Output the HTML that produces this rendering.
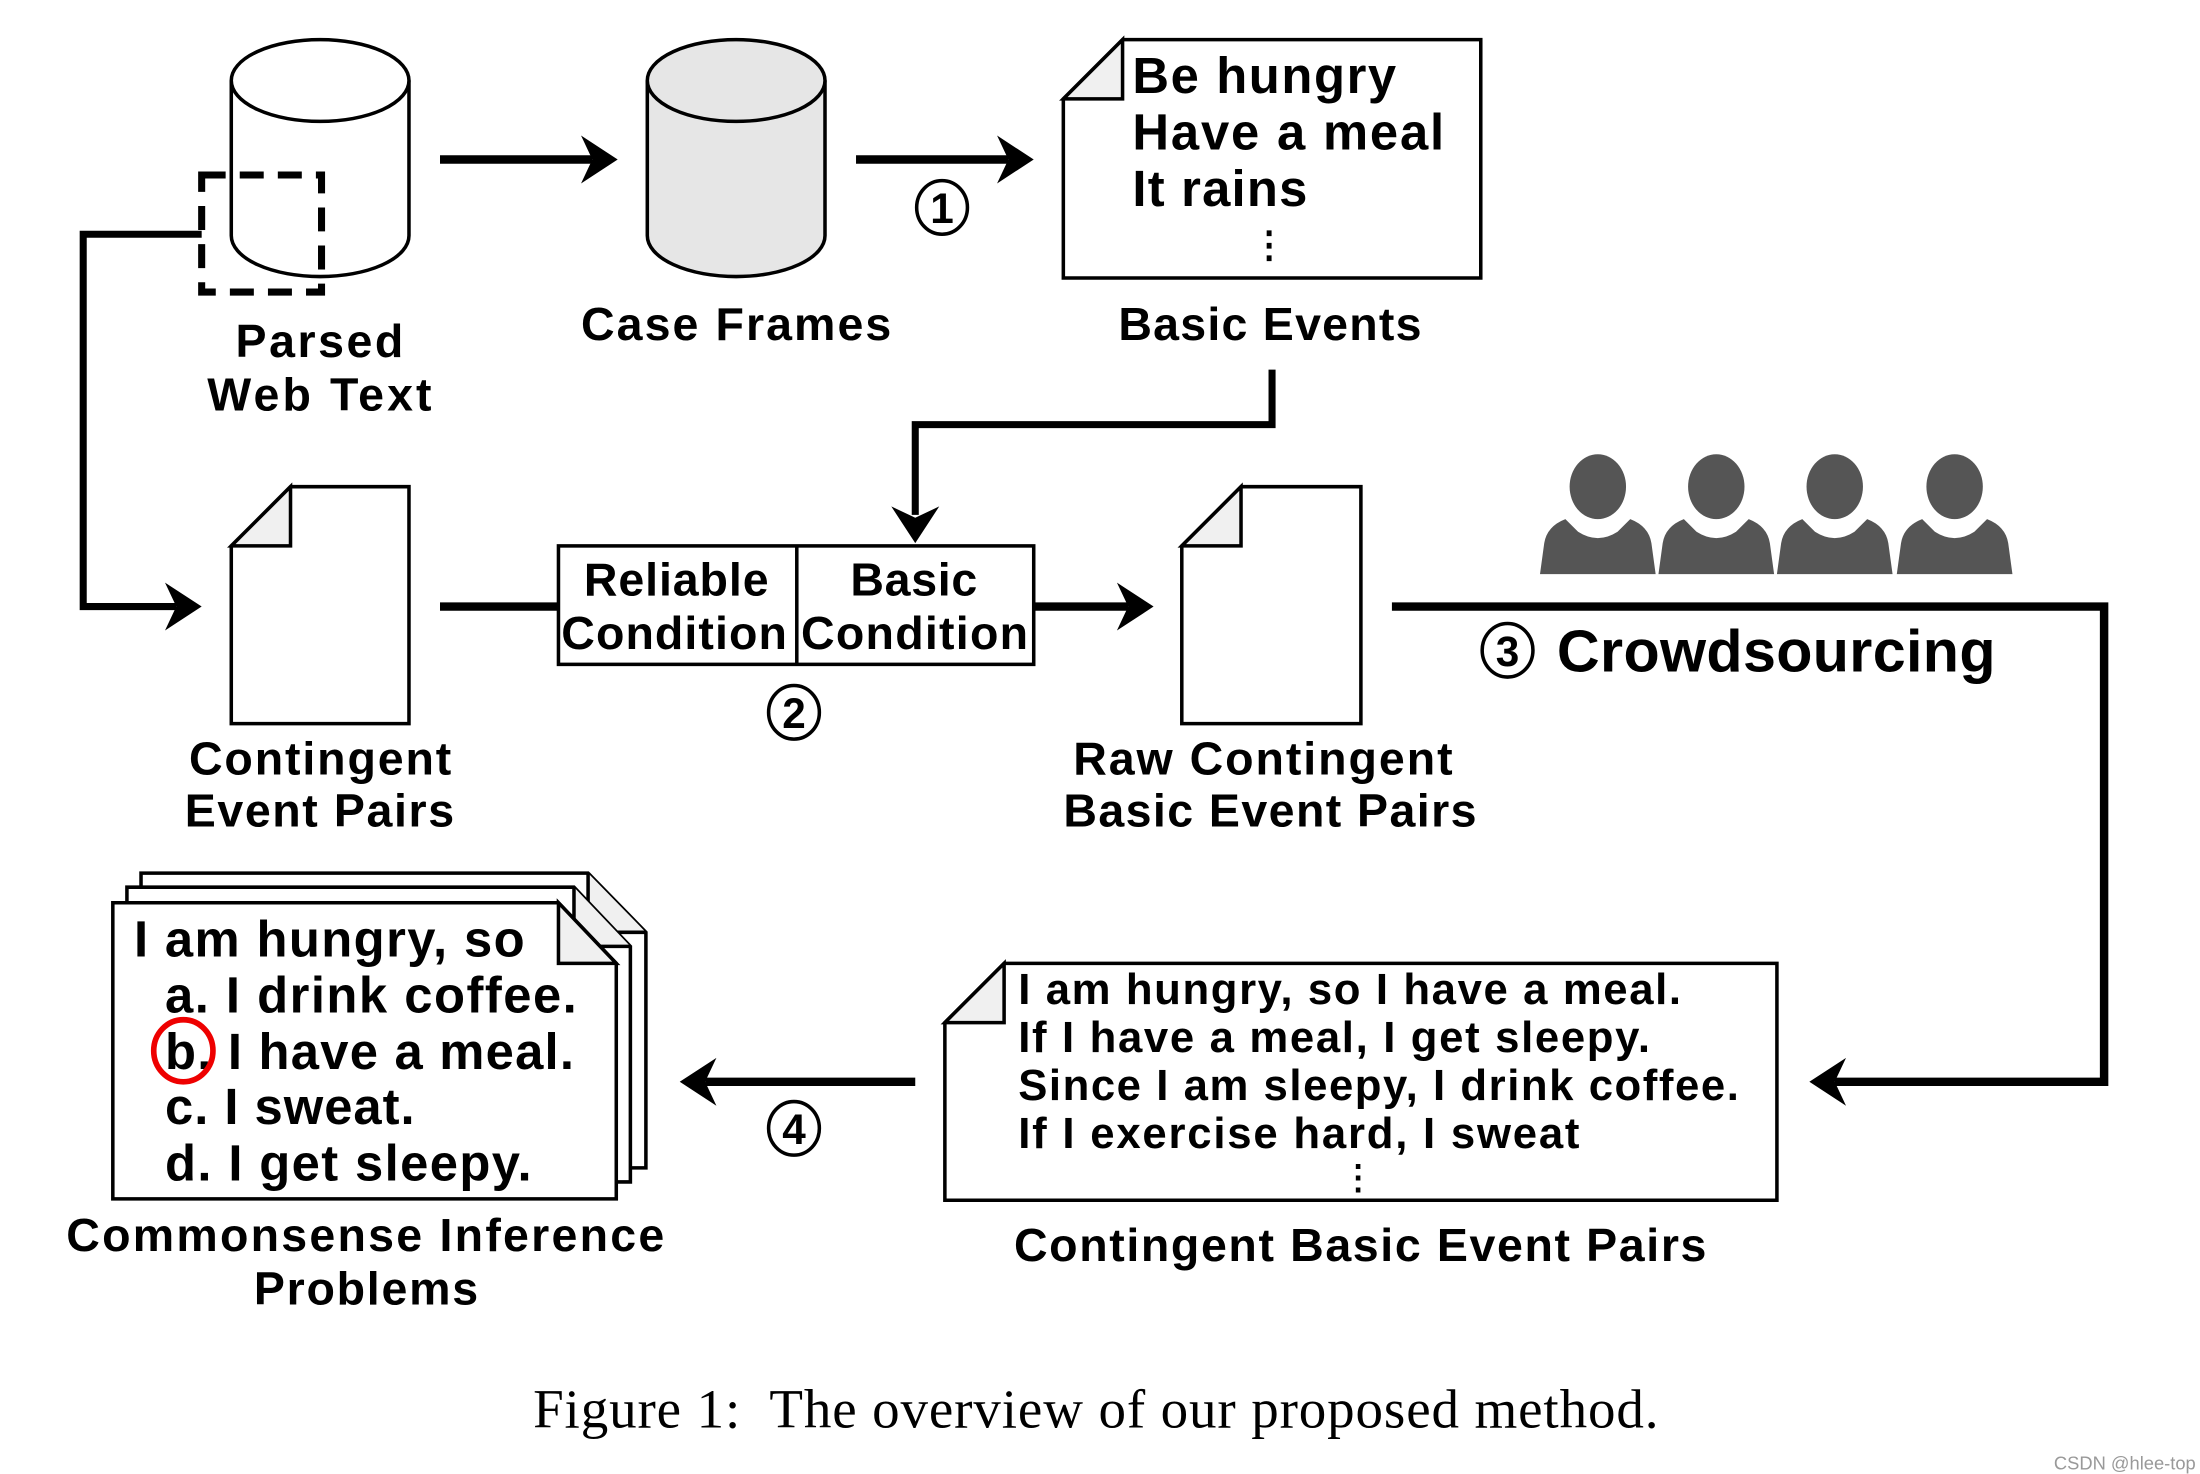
<!DOCTYPE html>
<html><head><meta charset="utf-8"><style>
html,body{margin:0;padding:0;background:#fff;}
svg{display:block}
.t{font-family:"Liberation Sans",sans-serif;font-weight:bold;fill:#000;}
</style></head><body>
<svg width="2200" height="1474" viewBox="0 0 1560 1045" xmlns="http://www.w3.org/2000/svg">
<defs>
<path id="ah" d="M0 0 L-26 -17 L-18 0 L-26 17 Z" fill="#000"/>
</defs>
<rect width="1560" height="1045" fill="#fff"/>
<g stroke="#000" stroke-width="2.5">
<path d="M164 57 L164 167 A63 29 0 0 0 290 167 L290 57" fill="#fff"/>
<ellipse cx="227" cy="57" rx="63" ry="29" fill="#fff"/>
<path d="M459 57 L459 167 A63 29 0 0 0 585 167 L585 57" fill="#e6e6e6"/>
<ellipse cx="522" cy="57" rx="63" ry="29" fill="#e6e6e6"/>
</g>
<rect x="143" y="124" width="85" height="83" fill="none" stroke="#000" stroke-width="5" stroke-dasharray="17,10"/>
<polyline points="143,166 59,166 59,430 125,430" fill="none" stroke="#000" stroke-width="5"/>
<use href="#ah" transform="translate(143,430)"/>
<line x1="312" y1="113" x2="420" y2="113" stroke="#000" stroke-width="6"/>
<use href="#ah" transform="translate(438,113)"/>
<line x1="607" y1="113" x2="715" y2="113" stroke="#000" stroke-width="6"/>
<use href="#ah" transform="translate(733,113)"/>
<g fill="none" stroke="#000" stroke-width="2.5">
<ellipse cx="668" cy="147" rx="18" ry="19"/>
<ellipse cx="563" cy="505" rx="18" ry="19"/>
<ellipse cx="1069" cy="461" rx="18" ry="19"/>
<ellipse cx="563" cy="800" rx="18" ry="19"/>
</g>
<text class="t" x="668" y="158" font-size="30" text-anchor="middle">1</text>
<text class="t" x="563" y="516" font-size="30" text-anchor="middle">2</text>
<text class="t" x="1069" y="472" font-size="30" text-anchor="middle">3</text>
<text class="t" x="563" y="811" font-size="30" text-anchor="middle">4</text>
<path d="M796 28 L1050 28 L1050 197 L754 197 L754 70 Z" fill="#fff" stroke="#000" stroke-width="2.5"/>
<path d="M796 28 L796 70 L754 70 Z" fill="#f0f0f0" stroke="#000" stroke-width="2.5"/>
<text class="t" x="803" y="66" font-size="36" textLength="187">Be hungry</text>
<text class="t" x="803" y="106" font-size="36" textLength="221">Have a meal</text>
<text class="t" x="803" y="146" font-size="36" textLength="124">It rains</text>
<text class="t" x="900" y="182" font-size="26" text-anchor="middle">⋮</text>
<text class="t" x="167" y="253" font-size="33" textLength="119">Parsed</text>
<text class="t" x="147" y="291" font-size="33" textLength="159">Web Text</text>
<text class="t" x="412" y="241" font-size="33" textLength="220">Case Frames</text>
<text class="t" x="793" y="241" font-size="33" textLength="215">Basic Events</text>
<polyline points="902,262 902,301 649,301 649,365" fill="none" stroke="#000" stroke-width="5"/>
<use href="#ah" transform="translate(649,385) rotate(90)"/>
<path d="M206 345 L290 345 L290 513 L164 513 L164 387 Z" fill="#fff" stroke="#000" stroke-width="2.5"/>
<path d="M206 345 L206 387 L164 387 Z" fill="#f0f0f0" stroke="#000" stroke-width="2.5"/>
<text class="t" x="134" y="549" font-size="33" textLength="186">Contingent</text>
<text class="t" x="131" y="586" font-size="33" textLength="191">Event Pairs</text>
<line x1="312" y1="430" x2="396" y2="430" stroke="#000" stroke-width="6"/>
<rect x="396" y="387" width="337" height="84" fill="#fff" stroke="#000" stroke-width="2.5"/>
<line x1="565" y1="387" x2="565" y2="471" stroke="#000" stroke-width="2.5"/>
<text class="t" x="414" y="422" font-size="33" textLength="131">Reliable</text>
<text class="t" x="398" y="460" font-size="33" textLength="160">Condition</text>
<text class="t" x="603" y="422" font-size="33" textLength="90">Basic</text>
<text class="t" x="568" y="460" font-size="33" textLength="161">Condition</text>
<line x1="733" y1="430" x2="800" y2="430" stroke="#000" stroke-width="6"/>
<use href="#ah" transform="translate(818,430)"/>
<path d="M880 345 L965 345 L965 513 L838 513 L838 387 Z" fill="#fff" stroke="#000" stroke-width="2.5"/>
<path d="M880 345 L880 387 L838 387 Z" fill="#f0f0f0" stroke="#000" stroke-width="2.5"/>
<text class="t" x="761" y="549" font-size="33" textLength="269">Raw Contingent</text>
<text class="t" x="754" y="586" font-size="33" textLength="293">Basic Event Pairs</text>
<g fill="#555">
<g transform="translate(1133,0)"><ellipse cx="0" cy="345" rx="20" ry="23"/><path d="M-41 407 L-38 385 Q-36 373 -23 368 L-14 377 Q0 386 14 377 L23 368 Q36 373 38 385 L41 407 Z"/></g>
<g transform="translate(1217,0)"><ellipse cx="0" cy="345" rx="20" ry="23"/><path d="M-41 407 L-38 385 Q-36 373 -23 368 L-14 377 Q0 386 14 377 L23 368 Q36 373 38 385 L41 407 Z"/></g>
<g transform="translate(1301,0)"><ellipse cx="0" cy="345" rx="20" ry="23"/><path d="M-41 407 L-38 385 Q-36 373 -23 368 L-14 377 Q0 386 14 377 L23 368 Q36 373 38 385 L41 407 Z"/></g>
<g transform="translate(1386,0)"><ellipse cx="0" cy="345" rx="20" ry="23"/><path d="M-41 407 L-38 385 Q-36 373 -23 368 L-14 377 Q0 386 14 377 L23 368 Q36 373 38 385 L41 407 Z"/></g>
</g>
<polyline points="987,430 1492,430 1492,767 1301,767" fill="none" stroke="#000" stroke-width="6"/>
<use href="#ah" transform="translate(1283,767) rotate(180)"/>
<text class="t" x="1104" y="476" font-size="42" textLength="311">Crowdsourcing</text>
<path d="M712 683 L1260 683 L1260 851 L670 851 L670 725 Z" fill="#fff" stroke="#000" stroke-width="2.5"/>
<path d="M712 683 L712 725 L670 725 Z" fill="#f0f0f0" stroke="#000" stroke-width="2.5"/>
<text class="t" x="722" y="712" font-size="31" textLength="470">I am hungry, so I have a meal.</text>
<text class="t" x="722" y="746" font-size="31" textLength="448">If I have a meal, I get sleepy.</text>
<text class="t" x="722" y="780" font-size="31" textLength="511">Since I am sleepy, I drink coffee.</text>
<text class="t" x="722" y="814" font-size="31" textLength="398">If I exercise hard, I sweat</text>
<text class="t" x="963" y="843" font-size="24" text-anchor="middle">⋮</text>
<text class="t" x="719" y="894" font-size="33" textLength="491">Contingent Basic Event Pairs</text>
<line x1="649" y1="767" x2="500" y2="767" stroke="#000" stroke-width="6"/>
<use href="#ah" transform="translate(482,767) rotate(180)"/>
<g stroke="#000" stroke-width="2.5" fill="#fff">
<path d="M100 619 L417 619 L458 661 L458 828 L100 828 Z"/>
<path d="M417 619 L417 661 L458 661" fill="#f0f0f0"/>
<path d="M90 629 L407 629 L447 671 L447 838 L90 838 Z"/>
<path d="M407 629 L407 671 L447 671" fill="#f0f0f0"/>
<path d="M80 640 L396 640 L437 683 L437 850 L80 850 Z"/>
<path d="M396 640 L396 683 L437 683 Z" fill="#f0f0f0"/>
</g>
<text class="t" x="95" y="678" font-size="36" textLength="277">I am hungry, so</text>
<text class="t" x="117" y="718" font-size="36" textLength="292">a. I drink coffee.</text>
<text class="t" x="117" y="758" font-size="36" textLength="290">b. I have a meal.</text>
<text class="t" x="117" y="797" font-size="36" textLength="177">c. I sweat.</text>
<text class="t" x="117" y="837" font-size="36" textLength="260">d. I get sleepy.</text>
<ellipse cx="130" cy="745" rx="21" ry="22" fill="none" stroke="#e00" stroke-width="4"/>
<text class="t" x="47" y="887" font-size="33" textLength="424">Commonsense Inference</text>
<text class="t" x="180" y="925" font-size="33" textLength="159">Problems</text>
<text x="378" y="1012" font-size="39" textLength="798" font-family="'Liberation Serif',serif" fill="#000" xml:space="preserve">Figure 1:  The overview of our proposed method.</text>
<text x="1557" y="1042" font-size="13" text-anchor="end" font-family="'Liberation Sans',sans-serif" fill="#999">CSDN @hlee-top</text>
</svg>
</body></html>
